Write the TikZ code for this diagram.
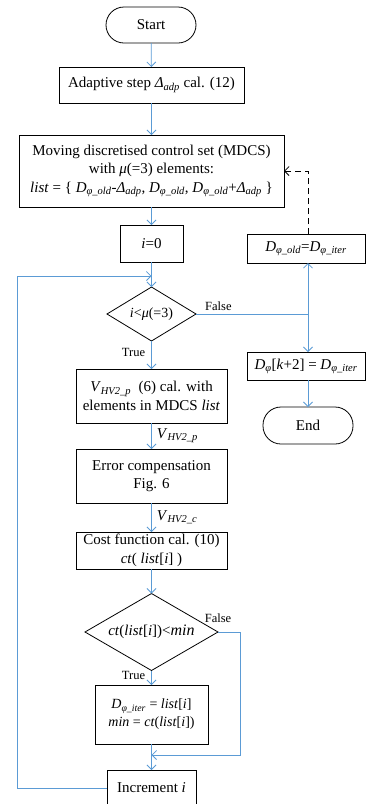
\documentclass[tikz,border=0pt]{standalone}
\usepackage{fontspec}
\setmainfont{Liberation Serif}
\usetikzlibrary{shapes.geometric,arrows.meta}
\definecolor{flowblue}{RGB}{91,155,213}
\newcommand{\Dphi}[1]{\textit{D}\textsubscript{\textit{φ\_#1}}}
\newcommand{\Dadp}{\textit{Δ}\textsubscript{\textit{adp}}}
\newcommand{\VHV}[1]{\textit{V}\textsubscript{\textit{HV2\_#1}}}
\tikzset{
  base/.style={draw=black,line width=0.8pt,inner sep=0pt,outer sep=0pt,align=center,
    font=\fontsize{15}{18.5}\selectfont},
  procbox/.style={base,rectangle},
  term/.style={base,rectangle,rounded corners=18pt},
  decide/.style={base,diamond,aspect=1.7},
  flow/.style={draw=flowblue,line width=0.8pt,-{Straight Barb[length=4.5pt,width=9pt]}},
  flowline/.style={draw=flowblue,line width=0.8pt},
  backflow/.style={draw=black,line width=0.8pt,dash pattern=on 6pt off 4pt,-{Straight Barb[length=4.5pt,width=9pt]}},
  lab/.style={inner sep=0pt,font=\fontsize{12.5}{14}\selectfont},
}
\begin{document}
\begin{tikzpicture}[x=1pt,y=-1pt]
\useasboundingbox (0,0) rectangle (366,804);
% main column
\node[term,minimum width=90pt,minimum height=36pt] (start) at (151,25) {Start};
\node[procbox,minimum width=185pt,minimum height=36pt] (adp) at (151.5,85) {Adaptive step \Dadp{} cal. (12)};
\node[procbox,minimum width=265pt,minimum height=72pt] (mdcs) at (151.5,171)
  {Moving discretised control set (MDCS)\\ with \textit{μ}(=3) elements:\\
   \textit{list} = \{ \Dphi{old}-\Dadp, \Dphi{old}, \Dphi{old}+\Dadp{} \}};
\node[procbox,minimum width=63pt,minimum height=37pt] (izero) at (151.5,243.5) {\textit{i}=0};
\node[decide,minimum width=89pt,minimum height=54pt,font=\fontsize{14}{17}\selectfont] (dia1) at (151.5,314) {\textit{i}<\textit{μ}(=3)};
\node[procbox,minimum width=151pt,minimum height=54pt] (vcal) at (151.5,396)
  {\VHV{p}\ \ (6) cal. with\\ elements in MDCS \textit{list}};
\node[procbox,minimum width=151pt,minimum height=54pt] (err) at (151.5,476)
  {Error compensation\\ Fig. 6};
\node[procbox,minimum width=151pt,minimum height=37pt] (cost) at (151.5,550.5)
  {Cost function cal. (10)\\ \textit{ct}( \textit{list}[\textit{i}] )};
\node[decide,minimum width=133pt,minimum height=77pt] (dia2) at (151.5,632)
  {\textit{ct}(\textit{list}[\textit{i}])<{\fontsize{16}{18}\selectfont\textit{min}}};
\node[procbox,minimum width=113pt,minimum height=59pt,font=\fontsize{14}{18}\selectfont] (diter) at (151.5,714.5)
  {\Dphi{iter} = \textit{list}[\textit{i}]\\ \textit{min} = \textit{ct}(\textit{list}[\textit{i}])};
\node[procbox,minimum width=89pt,minimum height=36pt] (incr) at (151.5,788) {Increment \textit{i}};
% right column
\node[procbox,minimum width=118pt,minimum height=29pt] (dold) at (306,248.5) {\Dphi{old}=\Dphi{iter}};
\node[procbox,minimum width=118pt,minimum height=28pt] (dk) at (306,366) {\textit{D}\textsubscript{\textit{φ}}[\textit{k}+2] = \Dphi{iter}};
\node[term,minimum width=90pt,minimum height=37pt] (endn) at (308,425.5) {End};
% helper coordinates
\coordinate (jn) at (308,314);
\coordinate (loopin) at (151.5,276);
\coordinate (loopc) at (17,276);
\coordinate (retc) at (240,755);
\coordinate (retin) at (151.5,755);
% connectors
\draw[flow] (start) -- (adp);
\draw[flow] (adp) -- (mdcs);
\draw[flow] (mdcs) -- (izero);
\draw[flow] (izero) -- (dia1);
\draw[flow] (dia1) -- node[lab,pos=0.4,left=6pt] {True} (vcal);
\draw[flow] (vcal) -- node[lab,right=5pt,font=\fontsize{15}{18}\selectfont] {\VHV{p}} (err);
\draw[flow] (err) -- node[lab,right=5pt,font=\fontsize{15}{18}\selectfont] {\VHV{c}} (cost);
\draw[flow] (cost) -- (dia2);
\draw[flow] (dia2) -- node[lab,pos=0.35,left=6pt] {True} (diter);
\draw[flow] (diter) -- (incr);
\draw[flowline] (dia1.east) -- node[lab,above=3pt,pos=0.2] {False} (jn);
\draw[flow] (jn) -- (jn |- dold.south);
\draw[flow] (jn) -- (jn |- dk.north);
\draw[flow] (endn.north |- dk.south) -- (endn.north);
\draw[backflow] (jn |- dold.north) |- (mdcs.east);
\draw[flow] (dia2.east) -| (retc) -- (retin);
\node[lab] at (218,618) {False};
\draw[flow] (incr.west) -| (loopc) -- (loopin);
\end{tikzpicture}
\end{document}
